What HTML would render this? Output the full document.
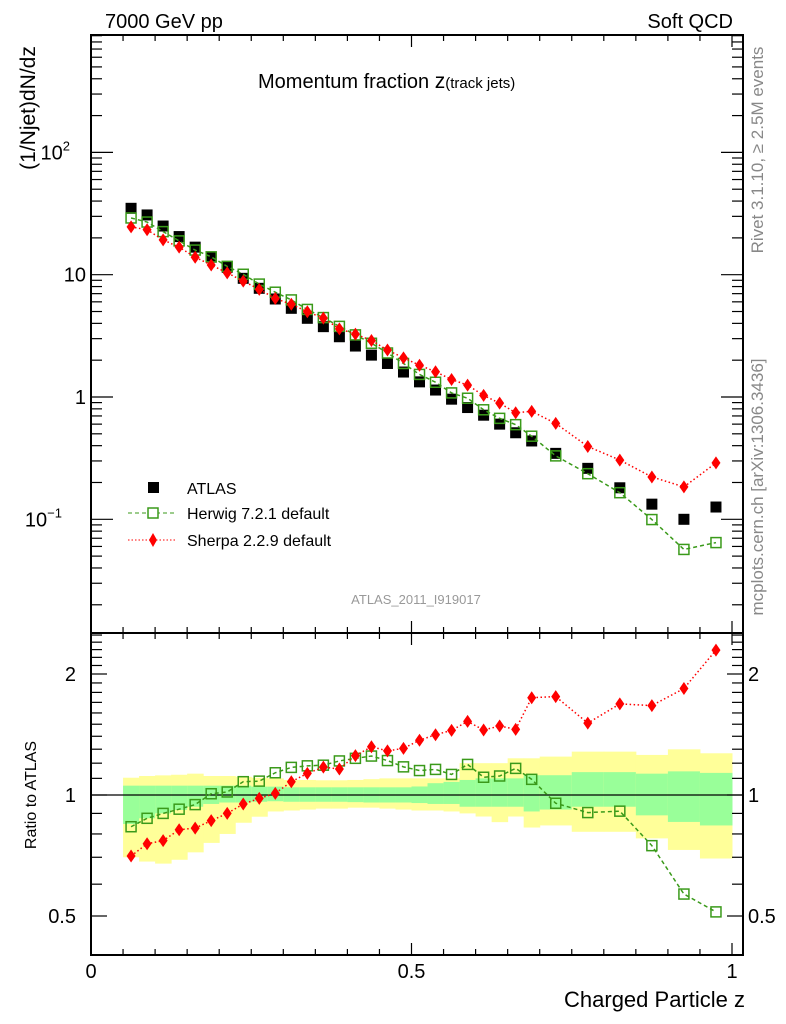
<!DOCTYPE html>
<html><head><meta charset="utf-8"><style>
html,body{margin:0;padding:0;background:#fff}
svg{display:block;font-family:"Liberation Sans",sans-serif}
</style></head><body>
<svg id="chart" width="786" height="1024" viewBox="0 0 786 1024" xmlns="http://www.w3.org/2000/svg">
<text x="105" y="28" font-size="20">7000 GeV pp</text>
<text x="733" y="28" font-size="20" text-anchor="end">Soft QCD</text>
<text x="258" y="88" font-size="20">Momentum fraction <tspan font-size="21">z</tspan><tspan font-size="15">(track jets)</tspan></text>
<text transform="translate(35,108) rotate(-90)" font-size="21" text-anchor="middle">(1/Njet)dN/dz</text>
<text transform="translate(36,795) rotate(-90)" font-size="16" text-anchor="middle">Ratio to ATLAS</text>
<text x="745" y="1007" font-size="22" text-anchor="end">Charged Particle z</text>
<text transform="translate(763,150) rotate(-90)" font-size="17" fill="#888" text-anchor="middle">Rivet 3.1.10, ≥ 2.5M events</text>
<text transform="translate(763,487) rotate(-90)" font-size="17" fill="#888" text-anchor="middle">mcplots.cern.ch [arXiv:1306.3436]</text>
<text x="416" y="604" font-size="13" fill="#999" text-anchor="middle">ATLAS_2011_I919017</text>
<g id="bands"></g><g id="series"></g><g id="axes"></g>
<g>
<rect x="148" y="482" width="11" height="11" fill="#000"/>
<text x="187" y="494" font-size="16">ATLAS</text>
<line x1="128" y1="513" x2="176" y2="513" stroke="#3a9a1a" stroke-dasharray="4,3"/>
<rect x="148" y="508" width="10" height="10" fill="#fff" stroke="#3a9a1a" stroke-width="1.5"/>
<text x="187" y="519" font-size="16">Herwig 7.2.1 default</text>
<line x1="128" y1="540" x2="176" y2="540" stroke="#f00" stroke-dasharray="1.5,2"/>
<polygon points="153,533 157,540 153,547 149,540" fill="#f00"/>
<text x="187" y="546" font-size="16">Sherpa 2.2.9 default</text>
</g>
</svg>
<script>
const binEdges=[0.05,0.075,0.1,0.125,0.15,0.175,0.2,0.225,0.25,0.275,0.3,0.325,0.35,0.375,0.4,0.425,0.45,0.475,0.5,0.525,0.55,0.575,0.6,0.625,0.65,0.675,0.7,0.75,0.8,0.85,0.9,0.95,1.0];
const atlasValues=[34.9,30.8,25.0,20.5,16.8,13.9,11.5,9.34,7.74,6.33,5.31,4.40,3.76,3.11,2.61,2.20,1.88,1.60,1.33,1.14,0.96,0.82,0.71,0.60,0.51,0.437,0.346,0.261,0.181,0.133,0.100,0.126];
const herwigValues=[29.1,26.95,22.5,18.9,15.9,14.0,11.7,10.08,8.38,7.19,6.22,5.20,4.46,3.78,3.22,2.75,2.29,1.88,1.53,1.32,1.08,0.977,0.786,0.669,0.594,0.478,0.330,0.236,0.165,0.0995,0.0567,0.0645];
const sherpaValues=[24.6,23.3,19.25,16.8,13.9,12.0,10.35,8.87,7.59,6.39,5.73,4.98,4.41,3.61,3.27,2.90,2.42,2.09,1.82,1.61,1.39,1.25,1.03,0.891,0.743,0.763,0.608,0.394,0.305,0.222,0.184,0.289];
const bandYellowUp=[1.104,1.115,1.119,1.123,1.13,1.115,1.115,1.11,1.104,1.10,1.09,1.09,1.088,1.088,1.09,1.095,1.10,1.10,1.10,1.10,1.10,1.20,1.20,1.20,1.234,1.234,1.246,1.282,1.282,1.258,1.299,1.27];
const bandYellowDown=[0.70,0.683,0.675,0.69,0.72,0.76,0.80,0.853,0.883,0.91,0.915,0.92,0.925,0.925,0.93,0.93,0.925,0.92,0.915,0.915,0.91,0.90,0.884,0.856,0.884,0.83,0.84,0.81,0.81,0.78,0.73,0.695];
const bandGreenUp=[1.055,1.055,1.055,1.055,1.055,1.055,1.055,1.055,1.049,1.049,1.045,1.045,1.045,1.045,1.045,1.045,1.045,1.045,1.05,1.07,1.078,1.09,1.10,1.10,1.10,1.12,1.12,1.14,1.14,1.13,1.145,1.135];
const bandGreenDown=[0.847,0.875,0.90,0.918,0.935,0.95,0.958,0.958,0.962,0.965,0.962,0.962,0.962,0.962,0.96,0.958,0.958,0.958,0.955,0.95,0.95,0.935,0.935,0.935,0.935,0.91,0.92,0.935,0.935,0.89,0.857,0.84];

const NS='http://www.w3.org/2000/svg';
const X0=91,X1=743,YT=35,YM=633,YB=955;
const xs=z=>91+641*z;
const ys=v=>397-122.3*Math.log10(v);
const yr=r=>795-121*Math.log2(r);
function mk(tag,attrs,parent){const e=document.createElementNS(NS,tag);for(const k in attrs)e.setAttribute(k,attrs[k]);parent.appendChild(e);return e;}
const bands=document.getElementById('bands'),series=document.getElementById('series'),axes=document.getElementById('axes');
const centers=[];for(let i=0;i<binEdges.length-1;i++)centers.push((binEdges[i]+binEdges[i+1])/2);

for(let i=0;i<centers.length;i++){
  const xa=xs(binEdges[i]),xb=xs(binEdges[i+1]);
  const y=mk('rect',{x:xa,y:yr(bandYellowUp[i]),width:xb-xa+0.5,height:yr(bandYellowDown[i])-yr(bandYellowUp[i]),fill:'#ffff99'},bands);
  
  
  const g=mk('rect',{x:xa,y:yr(bandGreenUp[i]),width:xb-xa+0.5,height:yr(bandGreenDown[i])-yr(bandGreenUp[i]),fill:'#99ff99'},bands);
  
  
}
const one=mk('line',{x1:X0,x2:X1,y1:yr(1),y2:yr(1),stroke:'#000','stroke-width':1.3},bands);



function drawSeries(vals,yf,kind){
  const pts=centers.map((c,i)=>[xs(c),yf(vals[i])]);
  if(kind!=='atlas'){
    const l=mk('polyline',{points:pts.map(p=>p.join(',')).join(' '),fill:'none',stroke:kind==='herwig'?'#3a9a1a':'#f00','stroke-width':1.5,'stroke-dasharray':kind==='herwig'?'4,3':'1.5,2.5'},series);
    
    
  }
  pts.forEach(p=>{
    let m;
    if(kind==='atlas')m=mk('rect',{x:p[0]-5.5,y:p[1]-5.5,width:11,height:11,fill:'#000'},series);
    else if(kind==='herwig')m=mk('rect',{x:p[0]-5,y:p[1]-5,width:10,height:10,fill:'none',stroke:'#3a9a1a','stroke-width':1.5},series);
    else m=mk('polygon',{points:`${p[0]},${p[1]-6.5} ${p[0]+4.5},${p[1]} ${p[0]},${p[1]+6.5} ${p[0]-4.5},${p[1]}`,fill:'#f00'},series);
    
    
  });
}
drawSeries(atlasValues,ys,'atlas');
drawSeries(herwigValues,ys,'herwig');
drawSeries(sherpaValues,ys,'sherpa');
drawSeries(herwigValues.map((v,i)=>v/atlasValues[i]),yr,'herwig');
drawSeries(sherpaValues.map((v,i)=>v/atlasValues[i]),yr,'sherpa');

const f1=mk('rect',{x:X0,y:YT,width:X1-X0,height:YM-YT,fill:'none',stroke:'#000','stroke-width':2},axes);


const f2=mk('rect',{x:X0,y:YM,width:X1-X0,height:YB-YM,fill:'none',stroke:'#000','stroke-width':2},axes);


function tk(x1,y1,x2,y2){const t=mk('line',{x1,y1,x2,y2,stroke:'#000','stroke-width':1.2},axes);}
for(let k=0;k<=20;k++){const z=k*0.05,x=xs(z),L=(k%10===0)?12:6;
  tk(x,YT,x,YT+L);tk(x,YM,x,YM-L);tk(x,YM,x,YM+L);tk(x,YB,x,YB-L);}
const xTickLabels=['0','0.5','1'];
xTickLabels.forEach(s=>{const t=mk('text',{x:xs(parseFloat(s)),y:978,'font-size':20,'text-anchor':'middle'},axes);t.textContent=s;
  
  });
for(let d=-2;d<=2;d++){for(let m=1;m<=9;m++){const v=m*Math.pow(10,d),y=ys(v);if(y<YT||y>YM)continue;const L=m===1?22:11;tk(X0,y,X0+L,y);tk(X1,y,X1-L,y);}}
const mainTickVals=[100,10,1,0.1];
const mainTickText=[['10','2'],['10',''],['1',''],['10','−1']];
mainTickVals.forEach((v,i)=>{const t=mk('text',{x:i===0||i===3?80:86,y:ys(v)+7,'font-size':20,'text-anchor':'end'},axes);
  t.textContent=mainTickText[i][0];
  if(mainTickText[i][1]){t.setAttribute('x',i===3?62:70);const s=mk('tspan',{'font-size':13,dy:-9},t);s.textContent=mainTickText[i][1];}
  
  });
const ratioMinor=[0.4,0.5,0.6,0.7,0.8,0.9,1,1.1,1.2,1.3,1.4,1.5,1.6,1.7,1.8,1.9,2,2.1,2.2,2.3,2.4,2.5];
ratioMinor.forEach(r=>{const y=yr(r);if(y<YM||y>YB)return;const L=(r===0.5||r===1||r===2)?16:11;tk(X0,y,X0+L,y);tk(X1,y,X1-L,y);});
const ratioTickLabels=['2','1','0.5'];
ratioTickLabels.forEach(s=>{const y=yr(parseFloat(s))+7;
  const a=mk('text',{x:76,y,'font-size':20,'text-anchor':'end'},axes);a.textContent=s;
  
  
  const b=mk('text',{x:748,y,'font-size':20},axes);b.textContent=s;
  
  });
</script>
</body></html>
